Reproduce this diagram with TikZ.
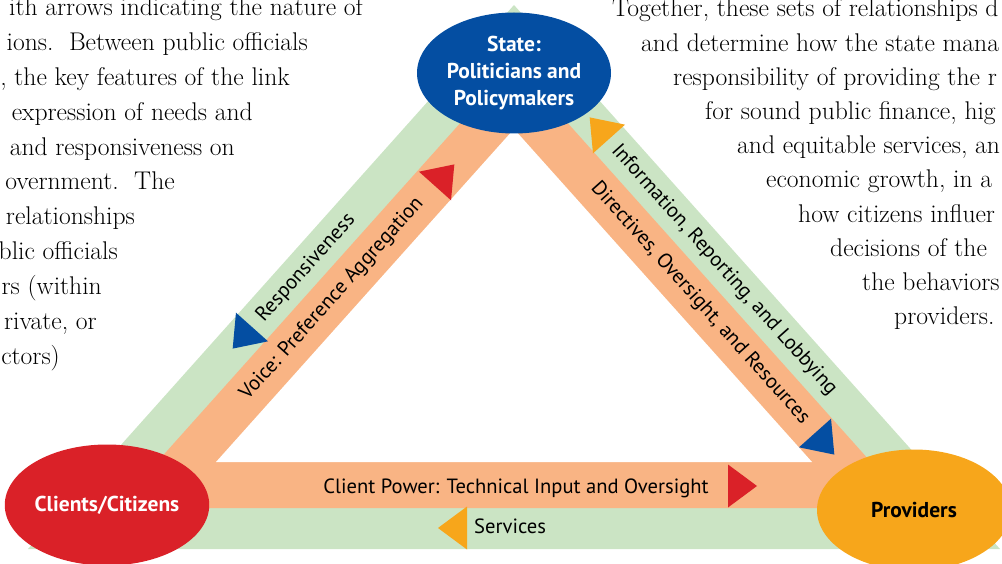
\documentclass[tikz,border=0pt]{standalone}
\usepackage{fontspec}
\newfontfamily\labfont{PT Sans}
\usetikzlibrary{shapes.geometric}
\definecolor{bandgreen}{RGB}{203,228,196}
\definecolor{bandorange}{RGB}{249,180,132}
\definecolor{stateblue}{RGB}{4,78,162}
\definecolor{clientred}{RGB}{218,33,40}
\definecolor{provorange}{RGB}{247,166,27}
\tikzset{
  tri/.pic={\fill[#1] (0,-21.5) -- (29,0) -- (0,21.5) -- cycle;},
  actor/.style={ellipse, minimum width=194pt, minimum height=121pt, inner sep=0pt,
    font=\labfont\bfseries\fontsize{21.5}{27}\selectfont, align=center},
  bandlabel/.style={font=\labfont\fontsize{20.6}{24}\selectfont, inner sep=0pt},
  bodyL/.style={font=\fontsize{25.6}{30}\selectfont, inner sep=0pt, anchor=base east},
  bodyR/.style={font=\fontsize{25.6}{30}\selectfont, inner sep=0pt, anchor=base west},
}
\begin{document}
\begin{tikzpicture}[x=1pt,y=-1pt]
\useasboundingbox (0,0) rectangle (1002,564);
% nested triangles forming the bands
\coordinate (gA) at (514,5);   \coordinate (gL) at (28,549);  \coordinate (gR) at (1000,549);
\coordinate (oA) at (514,63);  \coordinate (oL) at (116,508); \coordinate (oR) at (912,508);
\coordinate (wA) at (514,129); \coordinate (wL) at (216,462); \coordinate (wR) at (812,462);
\fill[bandgreen] (gA) -- (gL) -- (gR) -- cycle;
\fill[bandorange] (oA) -- (oL) -- (oR) -- cycle;
\fill[white] (wA) -- (wL) -- (wR) -- cycle;
% band labels
\node[bandlabel, rotate=48.2] (resp) at (306,268) {Responsiveness};
\node[bandlabel, rotate=48.2] (voice) at (332,299) {Voice: Preference Aggregation};
\node[bandlabel, rotate=-48.2] (info) at (724,270) {Information, Reporting, and Lobbying};
\node[bandlabel, rotate=-48.2] (dir) at (700,303) {Directives, Oversight, and Resources};
\node[bandlabel, anchor=base] (cp) at (516,493) {Client Power: Technical Input and Oversight};
\node[bandlabel, anchor=base west] (serv) at (474,533) {Services};
% direction triangles
\pic[rotate=228.2] at (252,327) {tri=stateblue};
\pic[rotate=48.2] at (435,186) {tri=clientred};
\pic[rotate=131.8] at (609,139) {tri=provorange};
\pic[rotate=-48.2] at (815,433) {tri=stateblue};
\pic at (728,486) {tri=clientred};
\pic[rotate=180] at (467,528) {tri=provorange};
% actors
\node[actor, fill=stateblue, text=white] (state) at (514,73) {State:\\Politicians and\\Policymakers};
\node[actor, fill=clientred, text=white] (clients) at (107,505) {Clients/Citizens};
\node[actor, fill=provorange, text=black] (prov) at (914,510) {Providers};
% left text
\node[bodyL] (l1) at (363,16) {ith arrows indicating the nature of};
\node[bodyL] (l2) at (308,50.8) {ions.\ \ Between public officials};
\node[bodyL] (l3) at (290,85.6) {, the key features of the link};
\node[bodyL] (l4) at (253,120.4) {expression of needs and};
\node[bodyL] (l5) at (235,155.2) {and responsiveness on};
\node[bodyL] (l6) at (175,190) {overnment.\ \ The};
\node[bodyL] (l7) at (135,224.8) {relationships};
\node[bodyL] (l8) at (118,259.6) {blic officials};
\node[bodyL] (l9) at (102,294.4) {rs (within};
\node[bodyL] (l10) at (97,329.2) {rivate, or};
\node[bodyL] (l11) at (60,364) {ctors)};
% right text
\node[bodyR] (r1) at (612,17) {Together, these sets of relationships d};
\node[bodyR] (r2) at (641,51.2) {and determine how the state mana};
\node[bodyR] (r3) at (673,85.4) {responsibility of providing the r};
\node[bodyR] (r4) at (705,119.6) {for sound public finance, hig};
\node[bodyR] (r5) at (737,153.8) {and equitable services, an};
\node[bodyR] (r6) at (766,188) {economic growth, in a};
\node[bodyR] (r7) at (798,222.2) {how citizens influer};
\node[bodyR] (r8) at (830,256.4) {decisions of the};
\node[bodyR] (r9) at (862,290.6) {the behaviors};
\node[bodyR] (r10) at (894,324.8) {providers.};
\end{tikzpicture}
\end{document}
